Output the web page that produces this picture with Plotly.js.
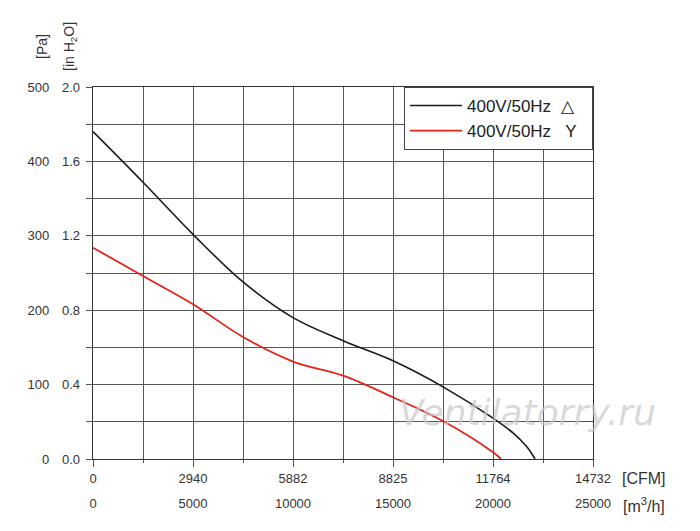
<!DOCTYPE html>
<html>
<head>
<meta charset="utf-8">
<script src="https://cdn.plot.ly/plotly-3.0.1.min.js"></script>
<style>html,body{margin:0;padding:0;background:#fff;}#chart{width:700px;height:531px;}</style>
</head>
<body>
<div id="chart"></div>
<script>
// Airflow (m3/h) and static pressure (Pa)
const deltaFlow = [0, 2500, 5000, 7500, 10000, 12500, 15000, 17500, 20000, 21000, 21700, 22100];
const deltaPa   = [440, 372, 302, 238, 190, 159, 132, 97, 55, 35, 16, 0];
const starFlow  = [0, 2500, 5000, 7500, 10000, 12500, 15000, 17500, 20000, 20400];
const starPa    = [284, 246, 208, 164, 131, 112, 83, 51, 9, 0];
const seriesNames = ['400V/50Hz\u00A0\u00A0\u25B3\u00A0\u00A0', '400V/50Hz\u00A0\u00A0\u00A0Y\u00A0\u00A0'];
// Tick labels
const m3hTicks = [0, 5000, 10000, 15000, 20000, 25000];
const m3hLabels = ['0', '5000', '10000', '15000', '20000', '25000'];
const cfmLabels = ['0', '2940', '5882', '8825', '11764', '14732'];
const paTicks = [0, 100, 200, 300, 400, 500];
const inH2OTicks = [0, 0.4, 0.8, 1.2, 1.6, 2.0];
const inH2OLabels = ['0.0', '0.4', '0.8', '1.2', '1.6', '2.0'];

const FONT = 'Arial, "Liberation Sans", sans-serif';
const GRID = '#555555';
const TXT = '#333333';

const traces = [
  {x: deltaFlow, y: deltaPa, name: seriesNames[0], type: 'scatter', mode: 'lines',
   line: {color: '#1a1a1a', width: 1.6, shape: 'spline', smoothing: 1}, xaxis: 'x', yaxis: 'y'},
  {x: starFlow, y: starPa, name: seriesNames[1], type: 'scatter', mode: 'lines',
   line: {color: '#e2231a', width: 1.8, shape: 'spline', smoothing: 1}, xaxis: 'x', yaxis: 'y'},
  {x: [0], y: [0], xaxis: 'x2', yaxis: 'y2', mode: 'markers', marker: {opacity: 0}, showlegend: false, hoverinfo: 'skip'}
];

const layout = {
  width: 700, height: 531,
  margin: {l: 93, r: 107, t: 87, b: 72},
  paper_bgcolor: '#ffffff', plot_bgcolor: '#ffffff',
  font: {family: FONT, color: TXT, size: 13},
  showlegend: true,
  legend: {x: 1, xanchor: 'right', y: 1, yanchor: 'top', bgcolor: '#ffffff',
           bordercolor: '#444444', borderwidth: 1, font: {size: 17, color: '#222222', family: FONT},
           tracegroupgap: 0, itemwidth: 52},
  xaxis: {range: [0, 25000], tickvals: m3hTicks, ticktext: cfmLabels, ticks: 'outside', ticklen: 7,
          tickcolor: GRID, tickwidth: 1, showgrid: true, gridcolor: GRID, gridwidth: 1,
          minor: {dtick: 2500, showgrid: true, gridcolor: GRID, gridwidth: 1, ticks: 'outside', ticklen: 3, tickcolor: GRID},
          showline: true, linecolor: '#333333', linewidth: 1.2, mirror: true, zeroline: false,
          tickfont: {size: 13, color: TXT}, ticklabelstandoff: 0, fixedrange: true},
  xaxis2: {range: [0, 25000], overlaying: 'x', anchor: 'y', side: 'bottom', tickvals: m3hTicks, ticktext: m3hLabels,
           ticks: '', showgrid: false, showline: false, zeroline: false,
           tickfont: {size: 13, color: TXT}, ticklabelstandoff: 35},
  yaxis: {range: [0, 500], tickvals: paTicks, ticks: 'outside', ticklen: 6, tickcolor: GRID, tickwidth: 1,
          showgrid: true, gridcolor: GRID, gridwidth: 1,
          minor: {dtick: 50, showgrid: true, gridcolor: GRID, gridwidth: 1, ticks: 'outside', ticklen: 6, tickcolor: GRID},
          showline: true, linecolor: '#333333', linewidth: 1.2, mirror: true, zeroline: false,
          tickfont: {size: 13, color: TXT}, ticklabelstandoff: 34},
  yaxis2: {range: [0, 2.0], overlaying: 'y', anchor: 'x', side: 'left', tickvals: inH2OTicks, ticktext: inH2OLabels,
           ticks: '', showgrid: false, showline: false, zeroline: false,
           tickfont: {size: 13, color: TXT}, ticklabelstandoff: 12},
  annotations: [
    {text: '[Pa]', textangle: -90, x: 42, y: 47, showarrow: false, font: {size: 14, color: TXT}},
    {text: '[in H<sub>2</sub>O]', textangle: -90, x: 70, y: 47, showarrow: false, font: {size: 14, color: TXT}},
    {text: '[CFM]', x: 620, y: 478, showarrow: false, xanchor: 'left', font: {size: 16, color: TXT}},
    {text: '[m<sup>3</sup>/h]', x: 621, y: 505, showarrow: false, xanchor: 'left', font: {size: 16, color: TXT}},
    {text: '<i>Ventilatorry.ru</i>', x: 527, y: 412, showarrow: false,
     font: {size: 36, family: '"DejaVu Sans", sans-serif', color: 'rgba(200,200,200,0.7)'}}
  ]
};
// convert pixel-positioned annotations to paper coordinates
const pw = 700 - 93 - 107, ph = 531 - 87 - 72;
layout.annotations.forEach(a => {
  a.xref = 'paper'; a.yref = 'paper';
  if (!a.xanchor) a.xanchor = 'center';
  a.yanchor = 'middle';
  a.x = (a.x - 93) / pw;
  a.y = (531 - 72 - a.y) / ph;
});

Plotly.newPlot('chart', traces, layout, {staticPlot: true, displayModeBar: false});
</script>
</body>
</html>
